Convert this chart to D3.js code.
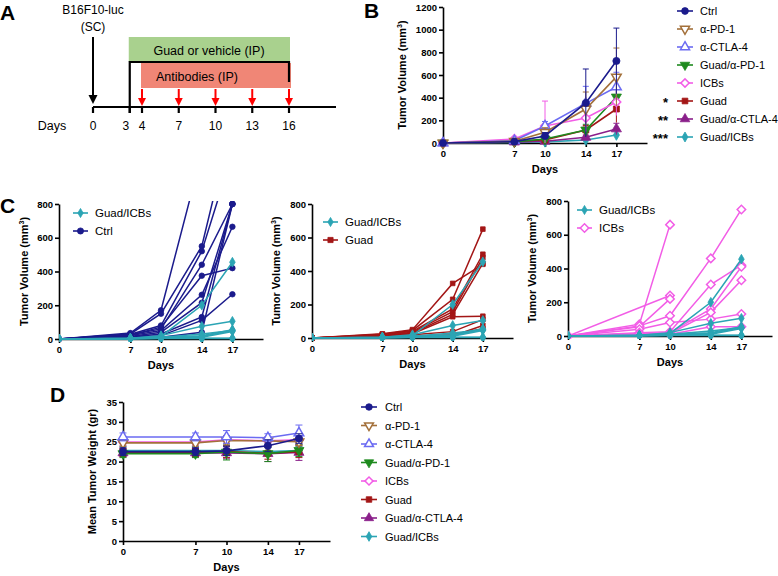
<!DOCTYPE html>
<html><head><meta charset="utf-8">
<script src="https://cdn.jsdelivr.net/npm/d3@7"></script>
<style>body{margin:0;background:#fff} svg{font-family:"Liberation Sans",Arial,sans-serif}</style>
</head><body><svg id="c" width="778" height="576"></svg>
<script>
// ---------------- data ----------------
const days = [0, 7, 10, 14, 17];
const groups = ["Ctrl", "α-PD-1", "α-CTLA-4", "Guad/α-PD-1", "ICBs", "Guad", "Guad/α-CTLA-4", "Guad/ICBs"];
const colors = ["#1b1b8c", "#a3703a", "#6b6bf2", "#1e8a1e", "#f25de6", "#a31616", "#8a1f8a", "#2ba4b4"];
const symbolTypes = ["circle", "triDownOpen", "triUpOpen", "triDown", "diamondOpen", "square", "triUp", "smallDiamond"];
const stars = ["", "", "", "", "", "*", "**", "***"];
// Panel B: mean tumor volume (mm3) and error
const meanVolume = [
  [0, 12, 62, 353, 724],
  [0, 15, 95, 300, 583],
  [0, 20, 150, 350, 494],
  [0, 10, 35, 115, 406],
  [0, 35, 150, 220, 362],
  [0, 18, 26, 115, 300],
  [0, 8, 15, 50, 124],
  [0, 5, 10, 26, 70]
];
const errVolume = [
  [0, 8, 30, 300, 290],
  [0, 8, 40, 150, 255],
  [0, 10, 40, 150, 130],
  [0, 5, 15, 50, 80],
  [0, 15, 220, 120, 120],
  [0, 8, 12, 40, 120],
  [0, 4, 8, 20, 50],
  [0, 3, 5, 15, 40]
];
// Panel C: individual mice
const miceCtrl = [
  [0, 35, 170, 1100, 1500],
  [0, 30, 150, 550, 1300],
  [0, 28, 80, 520, 1100],
  [0, 25, 60, 440, 800],
  [0, 22, 70, 375, 420],
  [0, 20, 50, 262, 665],
  [0, 15, 40, 215, 800],
  [0, 12, 30, 130, 800],
  [0, 10, 20, 110, 265],
  [0, 8, 10, 40, 800]
];
const miceGuadICBs = [
  [0, 5, 15, 200, 455],
  [0, 5, 20, 75, 105],
  [0, 3, 10, 20, 55],
  [0, 3, 8, 15, 50],
  [0, 2, 5, 10, 45],
  [0, 3, 10, 30, 50],
  [0, 2, 5, 5, 5],
  [0, 2, 3, 3, 3]
];
const miceGuad = [
  [0, 25, 50, 326, 440],
  [0, 22, 45, 231, 650],
  [0, 20, 40, 173, 500],
  [0, 15, 35, 157, 480],
  [0, 15, 30, 141, 445],
  [0, 12, 25, 127, 130],
  [0, 10, 20, 38, 110],
  [0, 8, 15, 12, 75],
  [0, 5, 10, 20, 55]
];
const miceICBs = [
  [0, 70, 660, null, null],
  [0, null, 240, null, null],
  [0, 55, 220, null, null],
  [0, 60, 120, 460, 750],
  [0, 40, 80, 100, 130],
  [0, 20, 25, 305, 420],
  [0, 15, 20, 160, 410],
  [0, 10, 15, 140, 330],
  [0, 10, 10, 55, 55]
];
// Panel D: mean tumor weight (gr)
const meanWeight = [
  [22.5, 22.5, 22.7, 24.0, 25.8],
  [24.7, 24.7, 25.3, 25.2, 25.0],
  [26.2, 26.2, 26.2, 26.0, 27.2],
  [22.0, 22.0, 22.4, 22.0, 22.8],
  [24.9, 24.9, 25.5, 25.2, 25.5],
  [22.3, 22.3, 22.5, 22.1, 22.5],
  [22.2, 22.2, 22.2, 22.0, 22.3],
  [22.8, 22.8, 22.8, 22.5, 22.8]
];
const errWeight = [
  [1.0, 1.0, 1.2, 1.5, 1.2],
  [0.8, 0.8, 1.2, 1.0, 1.0],
  [1.0, 1.0, 1.6, 1.0, 2.0],
  [1.0, 1.0, 2.0, 2.0, 1.5],
  [0.8, 0.8, 1.0, 1.0, 1.0],
  [1.0, 1.0, 1.5, 1.5, 1.5],
  [1.0, 1.0, 1.5, 2.0, 2.0],
  [1.0, 1.0, 1.0, 1.0, 1.0]
];
// Panel A timeline
const timelineDays = [0, 3, 4, 7, 10, 13, 16];
const antibodyDays = [4, 7, 10, 13, 16];
const volTicks = [0, 200, 400, 600, 800, 1000, 1200];
const volTicksC = [0, 200, 400, 600, 800];
const weightTicks = [0, 5, 10, 15, 20, 25, 30, 35];

// ---------------- helpers ----------------
const svg = d3.select("#c");
const FONT = "'Liberation Sans', Arial, sans-serif";

function drawMarker(g, type, color, x, y, s) {
  const info = {
    circle: [d3.symbolCircle, true, 0, 1],
    triDownOpen: [d3.symbolTriangle, false, 180, 1.0],
    triUpOpen: [d3.symbolTriangle, false, 0, 1.0],
    triDown: [d3.symbolTriangle, true, 180, 1.1],
    diamondOpen: [d3.symbolSquare, false, 45, 0.95],
    square: [d3.symbolSquare, true, 0, 0.9],
    triUp: [d3.symbolTriangle, true, 0, 1.1],
    smallDiamond: [d3.symbolDiamond, true, 0, 0.8]
  }[type];
  g.append("path")
    .attr("d", d3.symbol().type(info[0]).size(s * info[3])())
    .attr("transform", `translate(${x},${y}) rotate(${info[2]})`)
    .attr("fill", info[1] ? color : "#fff")
    .attr("stroke", color)
    .attr("stroke-width", info[1] ? 0.8 : 1.5);
}

function axes(x, y, xt, yt, xlabel, ylabel, ylabelX, sup) {
  const g = svg.append("g");
  const ya = g.append("g").attr("transform", `translate(${x.range()[0]},0)`)
    .call(d3.axisLeft(y).tickValues(yt).tickFormat(d3.format("d")).tickSize(4).tickSizeOuter(0).tickPadding(2));
  const xa = g.append("g").attr("transform", `translate(0,${y.range()[0]})`)
    .call(d3.axisBottom(x).tickValues(xt).tickFormat(d3.format("d")).tickSize(4).tickSizeOuter(0).tickPadding(3));
  [ya, xa].forEach(a => {
    a.selectAll("path,line").attr("stroke", "#000").attr("stroke-width", 1.6);
    a.selectAll("text").attr("font-family", FONT).attr("font-size", 9.5).attr("font-weight", "bold").attr("fill", "#000");
  });
  const xm = (x.range()[0] + x.range()[1]) / 2;
  g.append("text").attr("x", xm).attr("y", y.range()[0] + 30).attr("text-anchor", "middle")
    .attr("font-size", 11).attr("font-weight", "bold").text(xlabel);
  const ym = (y.range()[0] + y.range()[1]) / 2;
  const t = g.append("text").attr("transform", `translate(${ylabelX},${ym}) rotate(-90)`)
    .attr("text-anchor", "middle").attr("font-size", 11).attr("font-weight", "bold");
  t.append("tspan").text(ylabel);
  if (sup) {
    t.append("tspan").attr("font-size", 7).attr("dy", -4).text("3");
    t.append("tspan").attr("dy", 4).text(")");
  }
  return g;
}

function panelLetter(txt, x, y) {
  svg.append("text").attr("x", x).attr("y", y).attr("font-size", 21).attr("font-weight", "bold").text(txt);
}

// ---------------- Panel A ----------------
panelLetter("A", 0, 20);
(function () {
  const ax = d3.scaleLinear().domain([0, 16]).range([93, 289]);
  const g = svg.append("g");
  const lineY = 107;
  g.append("text").attr("x", ax(0)).attr("y", 14).attr("text-anchor", "middle").attr("font-size", 12).text("B16F10-luc");
  g.append("text").attr("x", ax(0)).attr("y", 31).attr("text-anchor", "middle").attr("font-size", 12).text("(SC)");
  // black arrow
  g.append("line").attr("x1", ax(0)).attr("x2", ax(0)).attr("y1", 37).attr("y2", 96).attr("stroke", "#000").attr("stroke-width", 2);
  g.append("path").attr("d", `M${ax(0) - 4.5},95 L${ax(0) + 4.5},95 L${ax(0)},104 Z`).attr("fill", "#000");
  // rects
  g.append("rect").attr("x", ax(3) - 1).attr("y", 37).attr("width", ax(16) + 2 - ax(3)).attr("height", 25).attr("fill", "#a9d18e");
  g.append("rect").attr("x", ax(4) - 1).attr("y", 63).attr("width", ax(16) + 3 - ax(4)).attr("height", 25).attr("fill", "#f08676");
  g.append("text").attr("x", 209).attr("y", 55).attr("text-anchor", "middle").attr("font-size", 12.5).text("Guad or vehicle (IP)");
  g.append("text").attr("x", 197).attr("y", 81).attr("text-anchor", "middle").attr("font-size", 12.5).text("Antibodies (IP)");
  // bracket
  g.append("path").attr("d", `M${ax(3)},${lineY + 6} L${ax(3)},62 L${ax(16)},62 L${ax(16)},82`)
    .attr("fill", "none").attr("stroke", "#000").attr("stroke-width", 2.2);
  // timeline
  g.append("line").attr("x1", ax(0)).attr("x2", 336).attr("y1", lineY).attr("y2", lineY).attr("stroke", "#000").attr("stroke-width", 2.2);
  timelineDays.forEach(d => {
    g.append("line").attr("x1", ax(d)).attr("x2", ax(d)).attr("y1", lineY).attr("y2", lineY + 6).attr("stroke", "#000").attr("stroke-width", 2.2);
    g.append("text").attr("x", ax(d) - (d === 3 ? 4 : 0)).attr("y", 130).attr("text-anchor", "middle").attr("font-size", 12).text(d);
  });
  antibodyDays.forEach(d => {
    g.append("line").attr("x1", ax(d)).attr("x2", ax(d)).attr("y1", 89).attr("y2", 99).attr("stroke", "#f00").attr("stroke-width", 2);
    g.append("path").attr("d", `M${ax(d) - 4},98 L${ax(d) + 4},98 L${ax(d)},106 Z`).attr("fill", "#f00");
  });
  g.append("text").attr("x", 52).attr("y", 130).attr("text-anchor", "middle").attr("font-size", 12.5).text("Days");
})();

// ---------------- Panel B ----------------
panelLetter("B", 364, 18);
(function () {
  const x = d3.scaleLinear().domain([0, 20]).range([443, 647]);
  const y = d3.scaleLinear().domain([0, 1200]).range([143, 7]);
  axes(x, y, days, volTicks, "Days", "Tumor Volume (mm", 406, true);
  const g = svg.append("g");
  const line = d3.line().x((d, i) => x(days[i])).y(d => y(d));
  const order = [7, 6, 5, 3, 4, 2, 1, 0];
  order.forEach(k => {
    const m = meanVolume[k], e = errVolume[k], c = colors[k];
    m.forEach((v, i) => {
      if (e[i] <= 0) return;
      const xx = x(days[i]);
      g.append("line").attr("x1", xx).attr("x2", xx).attr("y1", y(Math.max(0, v - e[i]))).attr("y2", y(v + e[i])).attr("stroke", c).attr("stroke-width", 1);
      g.append("line").attr("x1", xx - 3).attr("x2", xx + 3).attr("y1", y(v + e[i])).attr("y2", y(v + e[i])).attr("stroke", c).attr("stroke-width", 1);
    });
    g.append("path").attr("d", line(m)).attr("fill", "none").attr("stroke", c).attr("stroke-width", 1.6);
    m.forEach((v, i) => drawMarker(g, symbolTypes[k], c, x(days[i]), y(v), 40));
  });
  // legend
  const lg = svg.append("g");
  groups.forEach((name, k) => {
    const yy = 11 + k * 18;
    lg.append("line").attr("x1", 677).attr("x2", 693).attr("y1", yy).attr("y2", yy).attr("stroke", colors[k]).attr("stroke-width", 1.6);
    drawMarker(lg, symbolTypes[k], colors[k], 685, yy, 36);
    lg.append("text").attr("x", 700).attr("y", yy + 4).attr("font-size", 11).text(name);
    if (stars[k]) lg.append("text").attr("x", 668).attr("y", yy + 6).attr("text-anchor", "end").attr("font-size", 13).attr("font-weight", "bold").text(stars[k]);
  });
})();

// ---------------- Panel C ----------------
panelLetter("C", 0, 213);
function subC(x0, x1, yb, yt, ylx, other, otherIdx, legX, legY) {
  const x = d3.scaleLinear().domain([0, 20]).range([x0, x1]);
  const y = d3.scaleLinear().domain([0, 800]).range([yb, yt]);
  axes(x, y, days, volTicksC, "Days", "Tumor Volume (mm", ylx, true);
  const id = "clip" + Math.round(x0);
  svg.append("clipPath").attr("id", id).append("rect").attr("x", x0).attr("y", yt - 3).attr("width", x1 - x0).attr("height", yb - yt + 6);
  const g = svg.append("g");
  const lg = g.append("g").attr("clip-path", `url(#${id})`);
  const line = d3.line().x(d => x(d[0])).y(d => y(d[1]));
  function drawSet(set, k, r) {
    set.forEach(m => {
      const pts = m.map((v, i) => [days[i], v]).filter(p => p[1] != null);
      lg.append("path").attr("d", line(pts)).attr("fill", "none").attr("stroke", colors[k]).attr("stroke-width", 1.5);
      pts.forEach(p => { if (p[1] <= 800) drawMarker(lg, symbolTypes[k], colors[k], x(p[0]), y(p[1]), r); });
    });
  }
  drawSet(other, otherIdx, otherIdx === 4 ? 38 : 24);
  drawSet(miceGuadICBs, 7, 34);
  // legend
  const leg = svg.append("g");
  [[7], [otherIdx]].forEach((kk, j) => {
    const k = kk[0];
    const yy = legY + j * 18;
    leg.append("line").attr("x1", legX).attr("x2", legX + 15).attr("y1", yy).attr("y2", yy).attr("stroke", colors[k]).attr("stroke-width", 1.6);
    drawMarker(leg, symbolTypes[k], colors[k], legX + 7.5, yy, k === 4 ? 38 : 30);
    leg.append("text").attr("x", legX + 22).attr("y", yy + 4).attr("font-size", 11.5).text(groups[k]);
  });
}
subC(59, 263, 339, 204, 28, miceCtrl, 0, 73, 213);
subC(312, 513, 338, 204, 280, miceGuad, 5, 323, 222);
subC(568, 772, 336, 201, 536, miceICBs, 4, 577, 210);

// ---------------- Panel D ----------------
panelLetter("D", 50, 402);
(function () {
  const x = d3.scaleLinear().domain([0, 20]).range([123, 330]);
  const y = d3.scaleLinear().domain([0, 35]).range([541, 402]);
  axes(x, y, days, weightTicks, "Days", "Mean Tumor Weight (gr)", 96, false);
  const g = svg.append("g");
  const line = d3.line().x((d, i) => x(days[i])).y(d => y(d));
  const order = [7, 6, 5, 3, 4, 1, 2, 0];
  order.forEach(k => {
    const m = meanWeight[k], e = errWeight[k], c = colors[k];
    m.forEach((v, i) => {
      const xx = x(days[i]);
      g.append("line").attr("x1", xx).attr("x2", xx).attr("y1", y(v - e[i])).attr("y2", y(v + e[i])).attr("stroke", c).attr("stroke-width", 1);
      [v - e[i], v + e[i]].forEach(w => g.append("line").attr("x1", xx - 3.5).attr("x2", xx + 3.5).attr("y1", y(w)).attr("y2", y(w)).attr("stroke", c).attr("stroke-width", 1));
    });
    g.append("path").attr("d", line(m)).attr("fill", "none").attr("stroke", c).attr("stroke-width", 1.6);
    m.forEach((v, i) => drawMarker(g, symbolTypes[k], c, x(days[i]), y(v), 40));
  });
  const lg = svg.append("g");
  groups.forEach((name, k) => {
    const yy = 407 + k * 18.5;
    lg.append("line").attr("x1", 361).attr("x2", 377).attr("y1", yy).attr("y2", yy).attr("stroke", colors[k]).attr("stroke-width", 1.6);
    drawMarker(lg, symbolTypes[k], colors[k], 369, yy, 34);
    lg.append("text").attr("x", 385).attr("y", yy + 4).attr("font-size", 11).text(name);
  });
})();
</script></body></html>
